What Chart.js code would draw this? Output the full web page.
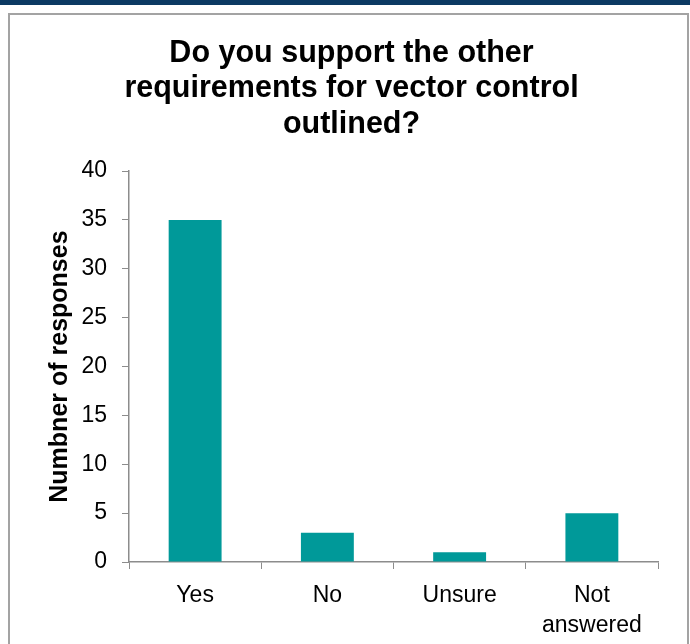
<!DOCTYPE html>
<html lang="en">
<head>
<meta charset="UTF-8">
<title>Vector control requirements</title>
<script src="https://cdn.jsdelivr.net/npm/chart.js@4"></script>
<style>
  html, body { margin:0; padding:0; background:#ffffff; }
  #band { position:absolute; left:0; top:0; width:690px; height:5px; background:#0c3a63; }
  #frame { position:absolute; left:8px; top:13px; width:677px; height:660px; border:2px solid #a3a3a3; border-bottom:none; }
  #chart { position:absolute; left:0; top:0; }
</style>
</head>
<body>
<div id="band"></div>
<div id="frame"></div>
<canvas id="chart" width="690" height="644"></canvas>
<script>
  // answers and counts
  const answers = ['Yes', 'No', 'Unsure', ['Not', 'answered']];
  const responses = [35, 3, 1, 5];
  const titleLines = ['Do you support the other', 'requirements for vector control', 'outlined?'];

  const fontFam = "'Liberation Sans', Arial, sans-serif";

  var ctx = document.getElementById('chart').getContext('2d');
  var chart = new Chart(ctx, {
    type: 'bar',
    data: {
      labels: answers,
      datasets: [{
        data: responses,
        backgroundColor: '#009999',
        borderWidth: 0,
        categoryPercentage: 1,
        barPercentage: 0.4
      }]
    },
    options: {
      responsive: false,
      animation: false,
      layout: { padding: { left: 45, right: 32, top: 0, bottom: 0 } },
      plugins: {
        legend: { display: false },
        tooltip: { enabled: false },
        title: {
          display: true,
          text: titleLines,
          color: '#000000',
          font: { family: fontFam, size: 30.5, weight: 'bold', lineHeight: 1.16 },
          padding: { top: 36, bottom: 29 }
        }
      },
      scales: {
        x: {
          grid: { drawOnChartArea: false, tickLength: 7, color: '#8c8c8c', offset: true },
          border: { color: '#8c8c8c', width: 1.5 },
          ticks: {
            color: '#000000', padding: 12, maxRotation: 0,
            font: { family: fontFam, size: 23, lineHeight: 1.3 }
          },
          afterFit: (scale) => { scale.height = 82; }
        },
        y: {
          min: 0, max: 40,
          grid: { drawOnChartArea: false, tickLength: 7, color: '#8c8c8c' },
          border: { color: '#8c8c8c', width: 1.5 },
          ticks: {
            stepSize: 5, color: '#000000', padding: 15,
            font: { family: fontFam, size: 23 }
          },
          title: {
            display: true,
            text: 'Numbner of responses',
            color: '#000000',
            font: { family: fontFam, size: 25, weight: 'bold' },
            padding: { top: 0, bottom: 6 }
          },
          afterFit: (scale) => { scale.width = 84; }
        }
      }
    }
  });
</script>
</body>
</html>
